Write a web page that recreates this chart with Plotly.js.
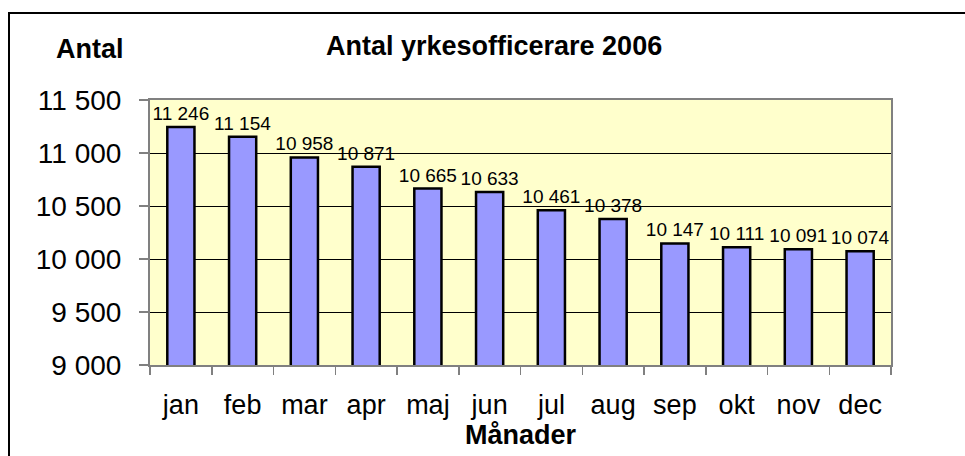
<!DOCTYPE html>
<html>
<head>
<meta charset="utf-8">
<script src="https://cdn.plot.ly/plotly-3.0.1.min.js"></script>
<style>
  html, body { margin: 0; padding: 0; background: #fff; }
  #wrap { position: relative; width: 965px; height: 456px; overflow: hidden; }
  #frame { position: absolute; left: 8px; top: 12px; width: 1000px; height: 500px;
           border-top: 2px solid #000; border-left: 2px solid #000; pointer-events: none; z-index: 5; }
  #chart { position: absolute; left: 0; top: 0; width: 965px; height: 456px; }
</style>
</head>
<body>
<div id="wrap">
  <div id="chart"></div>
  <div id="frame"></div>
</div>
<script>
const months = ['jan','feb','mar','apr','maj','jun','jul','aug','sep','okt','nov','dec'];
const officers = [11246, 11154, 10958, 10871, 10665, 10633, 10461, 10378, 10147, 10111, 10091, 10074];
const chartTitle = 'Antal yrkesofficerare 2006';
const yLabel = 'Antal';
const xLabel = 'Månader';

const FONT = 'Liberation Sans, Arial, sans-serif';

const trace = {
  type: 'bar',
  x: months,
  y: officers,
  marker: { color: '#9999FF', line: { color: '#000000', width: 2.5 } },
  texttemplate: '%{y:,.0f}',
  textposition: 'outside',
  textfont: { family: FONT, size: 19, color: '#000' },
  constraintext: 'none',
  cliponaxis: false,
  hoverinfo: 'x+y'
};

const layout = {
  width: 965,
  height: 456,
  margin: { l: 150, r: 74, t: 100, b: 91 },
  paper_bgcolor: '#ffffff',
  plot_bgcolor: '#FFFFCC',
  separators: ', ',
  showlegend: false,
  bargap: 0.56,
  font: { family: FONT, color: '#000' },
  title: {
    text: chartTitle,
    font: { family: FONT, size: 27, weight: 'bold', color: '#000' },
    x: 0.512, xanchor: 'center',
    y: 0.9, yanchor: 'middle', yref: 'container'
  },
  xaxis: {
    type: 'category',
    tickson: 'boundaries',
    ticks: 'outside', ticklen: 8, tickwidth: 1.5, tickcolor: '#808080',
    showline: true, linecolor: '#808080', linewidth: 2, mirror: true,
    showgrid: false,
    tickfont: { family: FONT, size: 27, color: '#000' },
    ticklabelstandoff: 15,
    title: { text: xLabel, font: { family: FONT, size: 27, weight: 'bold', color: '#000' }, standoff: 2 },
    automargin: false
  },
  yaxis: {
    range: [9000, 11500],
    dtick: 500,
    tick0: 9000,
    tickformat: ',.0f',
    ticks: 'outside', ticklen: 9, tickwidth: 1.5, tickcolor: '#808080',
    showline: true, linecolor: '#808080', linewidth: 2, mirror: true,
    showgrid: true, gridcolor: '#000000', gridwidth: 1,
    zeroline: false,
    tickfont: { family: FONT, size: 28, color: '#000' },
    ticklabelstandoff: 12,
    automargin: false
  },
  annotations: [{
    text: yLabel,
    xref: 'paper', yref: 'paper',
    x: -0.081, y: 1.194, xanchor: 'center', yanchor: 'middle',
    showarrow: false,
    font: { family: FONT, size: 27, weight: 'bold', color: '#000' }
  }]
};

Plotly.newPlot('chart', [trace], layout, { displayModeBar: false, staticPlot: true });
</script>
</body>
</html>
